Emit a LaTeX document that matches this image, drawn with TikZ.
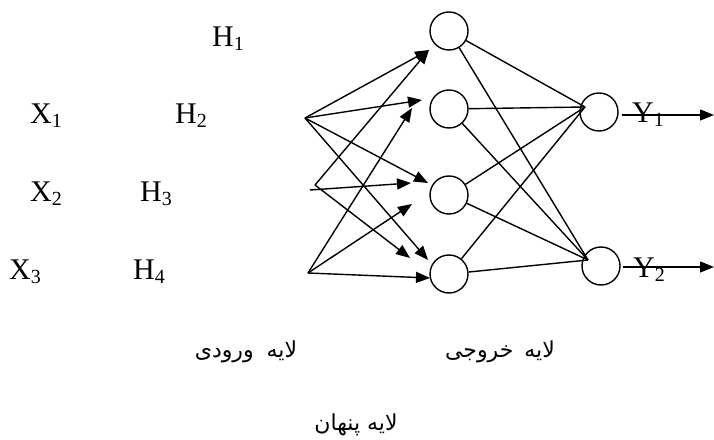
\documentclass[tikz,border=0pt]{standalone}
\usepackage{fontspec}
\setmainfont{Liberation Serif}
\newfontfamily\fa[Script=Arabic]{DejaVu Sans}
\TeXXeTstate=1
\usetikzlibrary{arrows.meta}
\newcommand{\sbs}[1]{\raisebox{-4bp}{\fontsize{20bp}{20bp}\selectfont #1}}
\tikzset{
  neuron/.style={circle,draw,line width=1.4bp,minimum size=38bp,inner sep=0pt},
  lbl/.style={anchor=base west,inner sep=0pt,font=\fontsize{30bp}{30bp}\selectfont},
  falbl/.style={inner sep=0pt,font=\fontsize{22bp}{26bp}\selectfont\fa},
  conn/.style={line width=1.4bp},
  arr/.style={line width=1.4bp,-{Triangle[length=14bp,width=11bp]}}
}
\begin{document}
\begin{tikzpicture}[x=1bp,y=-1bp]
\useasboundingbox (0,0) rectangle (714,440);
% labels
\node[lbl] (lh1) at (212,47) {H\sbs{1}};
\node[lbl] (lx1) at (30,124) {X\sbs{1}};
\node[lbl] (lh2) at (175,124) {H\sbs{2}};
\node[lbl] (lx2) at (30,202) {X\sbs{2}};
\node[lbl] (lh3) at (140,202) {H\sbs{3}};
\node[lbl] (lx3) at (9,280) {X\sbs{3}};
\node[lbl] (lh4) at (133,280) {H\sbs{4}};
% hidden neurons
\node[neuron] (h1) at (449,31) {};
\node[neuron] (h2) at (449,109) {};
\node[neuron] (h3) at (449,195) {};
\node[neuron] (h4) at (449,274) {};
% output neurons
\node[neuron] (y1) at (599,112) {};
\node[neuron] (y2) at (601,266) {};
% sources and tips
\coordinate (s1) at (305,118);
\coordinate (s2) at (315,185);
\coordinate (s2b) at (310,190);
\coordinate (s3) at (308,273);
\coordinate (t1) at (429,50);
\coordinate (t2a) at (422,100);
\coordinate (t2b) at (412,108);
\coordinate (t3a) at (428,183);
\coordinate (t3b) at (411,183);
\coordinate (t3c) at (412,204);
\coordinate (t4a) at (428,260);
\coordinate (t4b) at (410,258);
\coordinate (t4c) at (430,278);
\draw[arr] (s1) -- (t1);
\draw[arr] (s1) -- (t2a);
\draw[arr] (s1) -- (t3a);
\draw[arr] (s1) -- (t4a);
\draw[arr] (s2) -- (t1);
\draw[arr] (s2b) -- (t3b);
\draw[arr] (s2) -- (t4b);
\draw[arr] (s3) -- (t2b);
\draw[arr] (s3) -- (t3c);
\draw[arr] (s3) -- (t4c);
% hidden to output
\coordinate (yin1) at (585,107);
\coordinate (yin2) at (588,260);
\foreach \h in {h1,h2,h3,h4}{
  \draw[conn] (\h) -- (yin1);
  \draw[conn] (\h) -- (yin2);
}
% outputs
\coordinate (o1) at (714,115);
\coordinate (o2) at (714,267);
\draw[arr] ([xshift=3bp]y1.east |- o1) -- (o1);
\draw[arr] ([xshift=2bp]y2.east |- o2) -- (o2);
\node[lbl] (ly1) at (632,123) {Y\sbs{1}};
\node[lbl] (ly2) at (633,278) {Y\sbs{2}};
% Persian labels
\node[falbl] (lin) at (246,352) {\beginR لایه\hspace{6bp} ورودی\endR};
\node[falbl] (lout) at (500,352) {\beginR لایه\hspace{4bp} خروجی\endR};
\node[falbl] (lhid) at (356,425) {\beginR لایه پنهان\endR};
\end{tikzpicture}
\end{document}
